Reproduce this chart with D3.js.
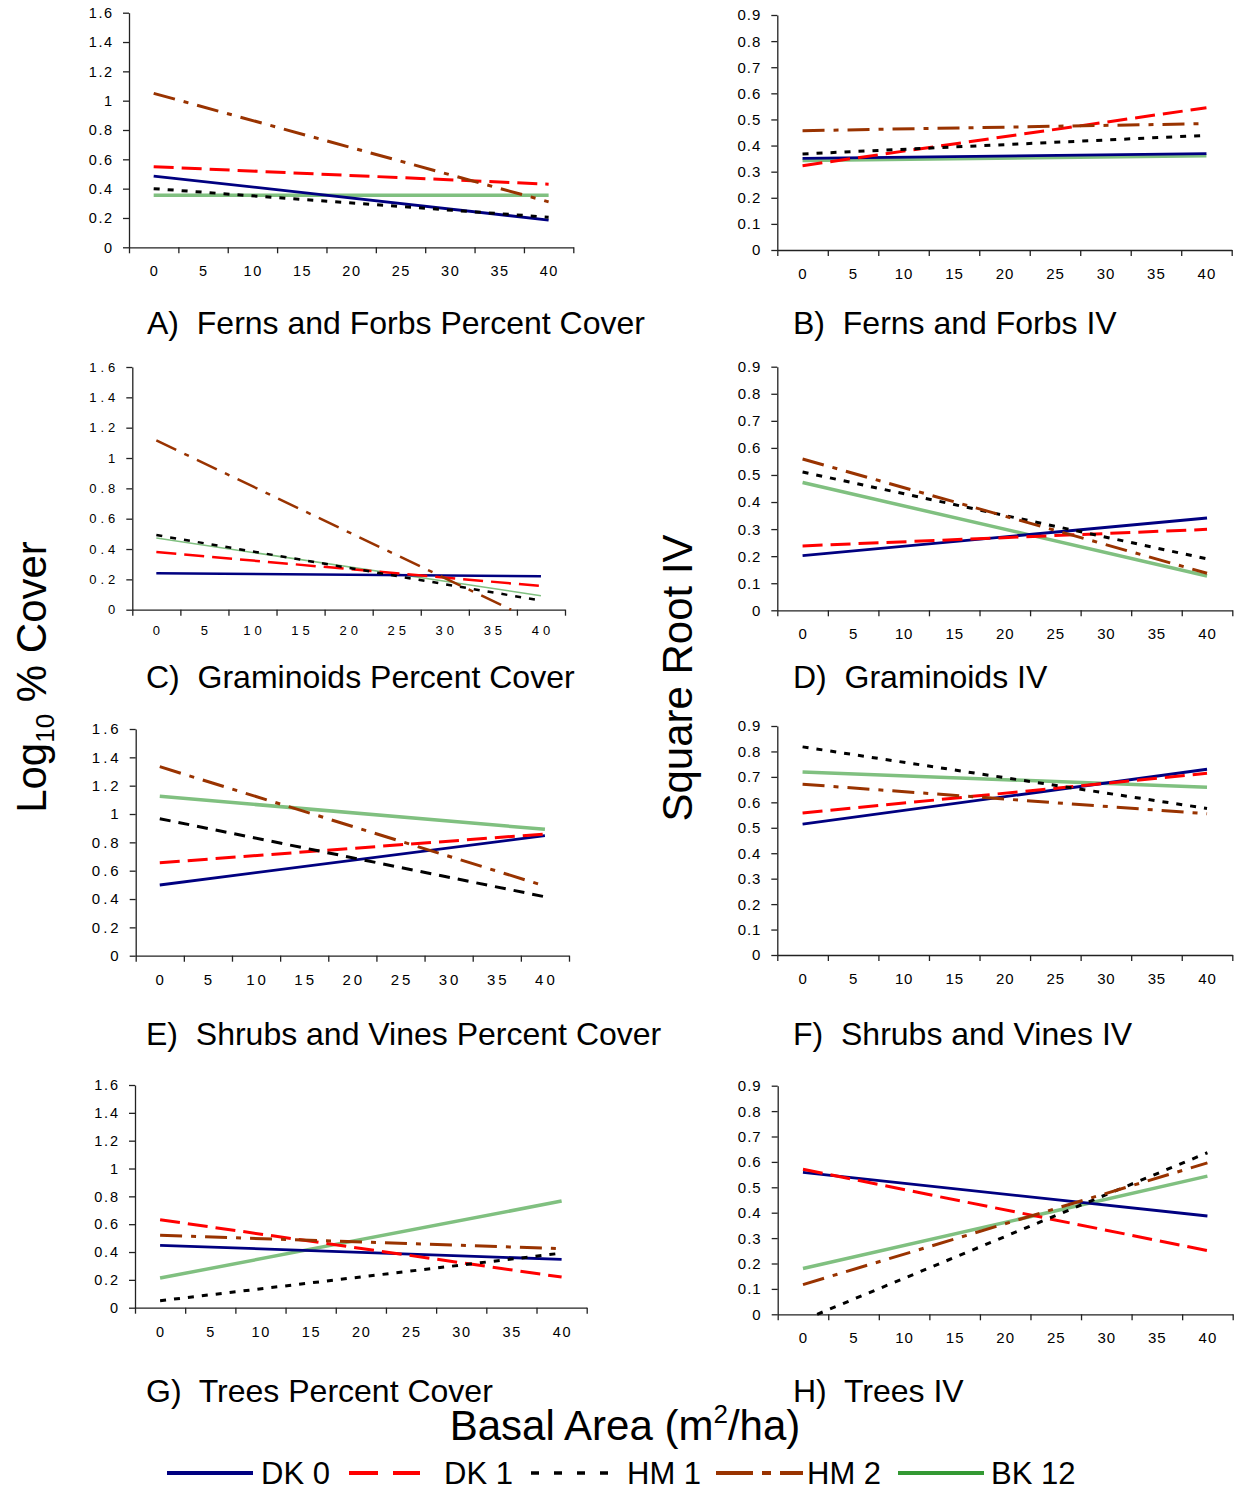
<!DOCTYPE html>
<html>
<head>
    <meta charset="utf-8" />
    <style>
        body { margin: 0; background: #fff; }
        svg { display: block; font-family: "Liberation Sans", Arial, sans-serif; }
        text { white-space: pre; }
    </style>
    <script src="https://d3js.org/d3.v7.min.js"></script>
</head>
<body>
<svg id="main-graph"></svg>
<script>

/* data: fitted lines, end points [basal area, value] per site */

let groups = ["DK 0", "DK 1", "HM 1", "HM 2", "BK 12"];
let basalTicks = [0, 5, 10, 15, 20, 25, 30, 35, 40];
let coverTicks = [0, 0.2, 0.4, 0.6, 0.8, 1, 1.2, 1.4, 1.6];
let ivTicks = [0, 0.1, 0.2, 0.3, 0.4, 0.5, 0.6, 0.7, 0.8, 0.9];

let fernsCover = [
    [[0, 0.486], [40, 0.186]],
    [[0, 0.55], [40, 0.43]],
    [[0, 0.40], [40, 0.205]],
    [[0, 1.05], [40, 0.31]],
    [[0, 0.355], [40, 0.355]]
];
let fernsIV = [
    [[0, 0.351], [40, 0.369]],
    [[0, 0.323], [40, 0.545]],
    [[0, 0.368], [40, 0.439]],
    [[0, 0.457], [40, 0.484]],
    [[0, 0.343], [40, 0.361]]
];
let gramCover = [
    [[0, 0.24], [40, 0.22]],
    [[0, 0.38], [40, 0.156]],
    [[0, 0.492], [40, 0.06]],
    [[0, 1.116], [36.9, 0]],
    [[0, 0.473], [40, 0.092]]
];
let gramIV = [
    [[0, 0.202], [40, 0.341]],
    [[0, 0.238], [40, 0.299]],
    [[0, 0.511], [40, 0.19]],
    [[0, 0.559], [40, 0.137]],
    [[0, 0.472], [40, 0.127]]
];
let shrubCover = [
    [[0, 0.499], [40, 0.847]],
    [[0, 0.656], [40, 0.859]],
    [[0, 0.967], [40, 0.416]],
    [[0, 1.334], [40, 0.492]],
    [[0, 1.125], [40, 0.892]]
];
let shrubIV = [
    [[0, 0.514], [40, 0.73]],
    [[0, 0.558], [40, 0.714]],
    [[0, 0.818], [40, 0.576]],
    [[0, 0.671], [40, 0.555]],
    [[0, 0.719], [40, 0.659]]
];
let treeCover = [
    [[0, 0.448], [40, 0.347]],
    [[0, 0.632], [40, 0.22]],
    [[0, 0.05], [40, 0.392]],
    [[0, 0.52], [40, 0.424]],
    [[0, 0.213], [40, 0.766]]
];
let treeIV = [
    [[0, 0.559], [40, 0.387]],
    [[0, 0.571], [40, 0.251]],
    [[1.4, 0], [40, 0.636]],
    [[0, 0.117], [40, 0.596]],
    [[0, 0.18], [40, 0.544]]
];

/* styles */

let lineColors = ["#000080", "#ff0000", "#000000", "#993300", "#80c080"];
let legendColors = ["#000080", "#ff0000", "#000000", "#993300", "#339933"];
let dashes = [null, "20,8", "6,8", "22,9,5,9", null];
let widths = [2.8, 3, 3, 3, 3.5];

let panels = [
    { title: "A)  Ferns and Forbs Percent Cover", lines: fernsCover, ticks: coverTicks,
      l: 129, r: 573.3, t: 12.7, b: 247.3, fs: 14.5, ls: 1.5, tx: 147, ty: 334 },
    { title: "B)  Ferns and Forbs IV", lines: fernsIV, ticks: ivTicks,
      l: 777.3, r: 1231.7, t: 15, b: 250, fs: 15, ls: 1, tx: 793, ty: 334 },
    { title: "C)  Graminoids Percent Cover", lines: gramCover, ticks: coverTicks,
      l: 132.3, r: 565, t: 367, b: 609.7, fs: 13, ls: 4, tx: 146, ty: 688, thin: true },
    { title: "D)  Graminoids IV", lines: gramIV, ticks: ivTicks,
      l: 777.3, r: 1232.3, t: 366.7, b: 610.3, fs: 15, ls: 0.8, tx: 793, ty: 688 },
    { title: "E)  Shrubs and Vines Percent Cover", lines: shrubCover, ticks: coverTicks,
      l: 135.7, r: 569, t: 729, b: 955.7, fs: 15, ls: 3, tx: 146, ty: 1045, blackDash: "11,8" },
    { title: "F)  Shrubs and Vines IV", lines: shrubIV, ticks: ivTicks,
      l: 777.3, r: 1232.3, t: 726, b: 955, fs: 15, ls: 0.8, tx: 793, ty: 1045 },
    { title: "G)  Trees Percent Cover", lines: treeCover, ticks: coverTicks,
      l: 135, r: 586.7, t: 1085, b: 1307.7, fs: 14.5, ls: 1.8, tx: 146, ty: 1402 },
    { title: "H)  Trees IV", lines: treeIV, ticks: ivTicks,
      l: 777.7, r: 1232.7, t: 1085.7, b: 1314.3, fs: 15, ls: 1, tx: 793, ty: 1402 }
];

let W = 1238, H = 1494;

let svg = d3.select("#main-graph")
    .attr("width", W)
    .attr("height", H);

svg.append("rect").attr("width", W).attr("height", H).attr("fill", "#fff");

let fmt = d => String(+d.toFixed(1));

panels.forEach(p => {
    let g = svg.append("g");

    // categories sit in the middle of 9 bands, ticks on band edges
    let x = d3.scaleLinear().domain([-2.5, 42.5]).range([p.l, p.r]);
    let y = d3.scaleLinear().domain([0, d3.max(p.ticks)]).range([p.b, p.t]);

    let edges = d3.range(-2.5, 43, 5);

    g.append("g")
        .attr("transform", "translate(0," + p.b + ")")
        .call(d3.axisBottom(x).tickValues(edges).tickFormat("").tickSize(6).tickSizeOuter(0));

    g.selectAll(".xlab")
        .data(basalTicks)
        .enter()
        .append("text")
        .attr("x", d => x(d) + p.ls / 2)
        .attr("y", p.b + (p.thin ? 25 : 29))
        .attr("text-anchor", "middle")
        .attr("font-size", p.fs)
        .attr("letter-spacing", p.ls)
        .attr("fill", "#000")
        .text(d => d);

    g.append("g")
        .attr("transform", "translate(" + p.l + ",0)")
        .call(d3.axisLeft(y).tickValues(p.ticks).tickFormat("").tickSize(6).tickSizeOuter(0));

    g.selectAll(".ylab")
        .data(p.ticks)
        .enter()
        .append("text")
        .attr("x", p.l - 17 + p.ls)
        .attr("y", d => y(d) + p.fs * 0.36)
        .attr("text-anchor", "end")
        .attr("font-size", p.fs)
        .attr("letter-spacing", p.ls)
        .attr("fill", "#000")
        .text(fmt);

    g.selectAll(".domain, .tick line")
        .attr("stroke", "#222")
        .attr("stroke-width", 1.3);

    let line = d3.line()
        .x(d => x(d[0]))
        .y(d => y(d[1]));

    // draw order: green first so the others sit on top
    [4, 0, 1, 2, 3].forEach(i => {
        let dash = dashes[i];
        if (i == 2 && p.blackDash) dash = p.blackDash;
        let w = widths[i];
        if (p.thin) w = (i == 4) ? 1.5 : 2.5;
        g.append("path")
            .datum(p.lines[i])
            .attr("d", line)
            .attr("fill", "none")
            .attr("stroke", lineColors[i])
            .attr("stroke-width", w)
            .attr("stroke-dasharray", dash);
    });

    g.append("text")
        .attr("x", p.tx)
        .attr("y", p.ty)
        .attr("font-size", 32)
        .attr("fill", "#000")
        .text(p.title);
});

/* axis titles */

let yl1 = svg.append("text")
    .attr("transform", "translate(46,677) rotate(-90)")
    .attr("text-anchor", "middle")
    .attr("font-size", 42)
    .attr("fill", "#000");
yl1.append("tspan").text("Log");
yl1.append("tspan").attr("font-size", 26).attr("dy", 8).text("10");
yl1.append("tspan").attr("dy", -8).text(" % Cover");

svg.append("text")
    .attr("transform", "translate(692,678) rotate(-90)")
    .attr("text-anchor", "middle")
    .attr("font-size", 42)
    .attr("fill", "#000")
    .text("Square Root IV");

let xl = svg.append("text")
    .attr("x", 625)
    .attr("y", 1440)
    .attr("text-anchor", "middle")
    .attr("font-size", 42)
    .attr("fill", "#000");
xl.append("tspan").text("Basal Area (m");
xl.append("tspan").attr("font-size", 26).attr("dy", -17).text("2");
xl.append("tspan").attr("dy", 17).text("/ha)");

/* legend */

let legendX = [167, 349, 531, 716, 898];
let legendDash = [null, "29,15", "8,15", "37,9,9,9", null];

let legend = svg.append("g")
    .selectAll("g")
    .data(groups)
    .enter()
    .append("g")
    .attr("transform", (d, i) => "translate(" + legendX[i] + ",1473)");

legend.append("line")
    .attr("x1", 0)
    .attr("x2", (d, i) => i == 3 ? 87 : (i == 1 ? 71 : (i == 2 ? 80 : 86)))
    .attr("stroke", (d, i) => legendColors[i])
    .attr("stroke-width", (d, i) => i == 2 ? 3.5 : 4)
    .attr("stroke-dasharray", (d, i) => legendDash[i]);

legend.append("text")
    .attr("x", (d, i) => [94, 95, 96, 91, 93][i])
    .attr("y", 11)
    .attr("font-size", 31)
    .attr("fill", "#000")
    .text(d => d);

</script>
</body>
</html>
